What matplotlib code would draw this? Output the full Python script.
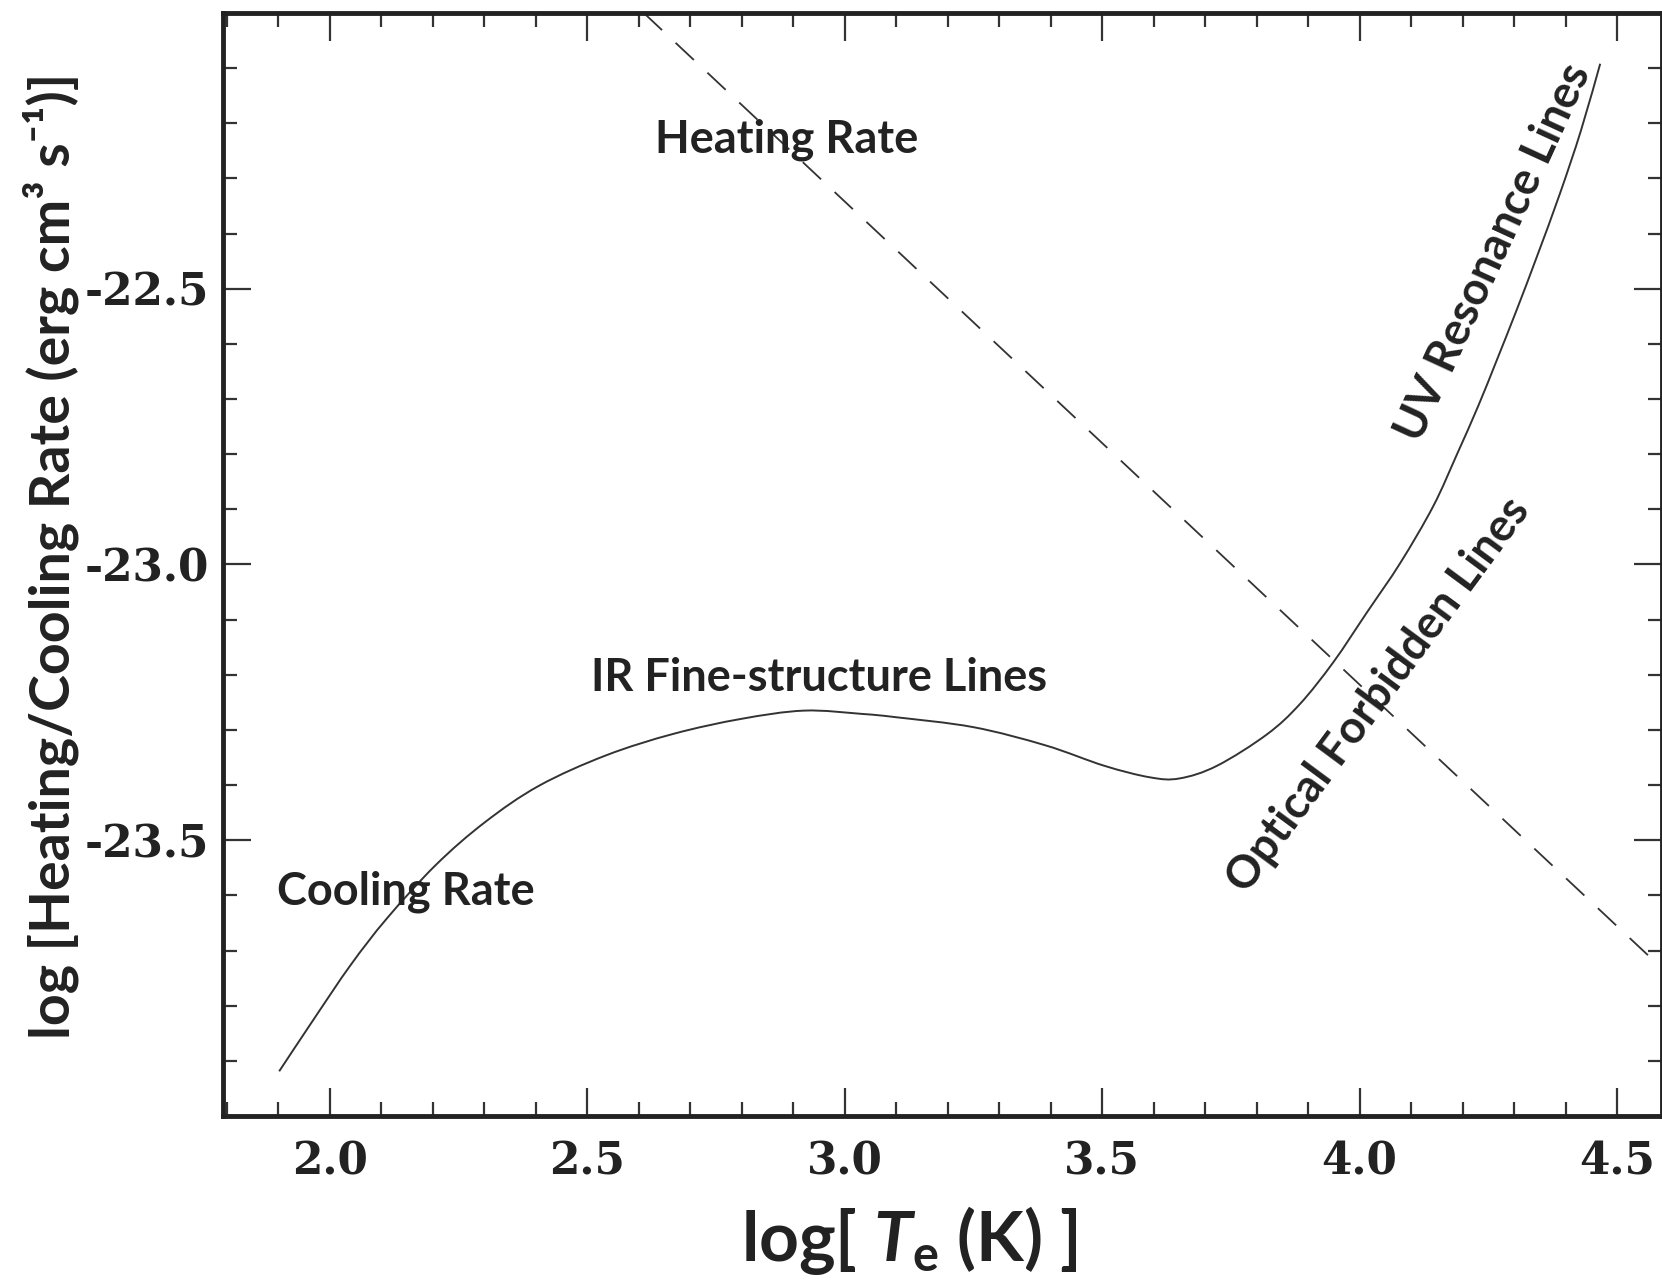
import matplotlib
matplotlib.use("Agg")
import matplotlib.pyplot as plt
from matplotlib.ticker import MultipleLocator, FixedLocator
from matplotlib.path import Path
from matplotlib.patches import PathPatch

plt.rcParams['mathtext.fontset'] = 'custom'
plt.rcParams['mathtext.rm'] = 'Lato:bold'
plt.rcParams['mathtext.it'] = 'Lato:bold:italic'
plt.rcParams['mathtext.bf'] = 'Lato:bold'
plt.rcParams['mathtext.default'] = 'rm'
plt.rcParams['lines.scale_dashes'] = False

# ---- data ----
cool_x = [1.902, 1.971, 2.041, 2.111, 2.206, 2.302, 2.407, 2.537, 2.668, 2.799,
          2.921, 3.034, 3.100, 3.250, 3.390, 3.504, 3.593, 3.650, 3.723, 3.820,
          3.884, 3.949, 4.014, 4.079, 4.143, 4.189, 4.230, 4.266, 4.305, 4.344,
          4.389, 4.430, 4.467]
cool_y = [-23.919, -23.822, -23.726, -23.642, -23.545, -23.467, -23.401, -23.346,
          -23.307, -23.280, -23.265, -23.271, -23.277, -23.295, -23.328, -23.365,
          -23.386, -23.388, -23.365, -23.308, -23.253, -23.177, -23.087, -22.997,
          -22.894, -22.800, -22.713, -22.630, -22.538, -22.442, -22.327, -22.212,
          -22.092]

heat_x = [2.61, 4.59]
heat_y = [-22.00, -23.735]

x_major = [2.0, 2.5, 3.0, 3.5, 4.0, 4.5]
x_labels = ["2.0", "2.5", "3.0", "3.5", "4.0", "4.5"]
y_major = [-23.5, -23.0, -22.5]
y_labels = ["-23.5", "-23.0", "-22.5"]

annotations = [
    ("Heating Rate", 2.887, -22.230, 0),
    ("IR Fine-structure Lines", 2.951, -23.205, 0),
    ("Cooling Rate", 2.147, -23.594, 0),
    ("UV Resonance Lines", 4.261, -22.435, 65.3),
    ("Optical Forbidden Lines", 4.036, -23.237, 53.5),
]


def smooth_path(xs, ys):
    """Catmull-Rom spline through the read points, drawn as cubic Bezier curves."""
    pts = list(zip(xs, ys))
    n = len(pts)
    verts = [pts[0]]
    codes = [Path.MOVETO]
    for i in range(n - 1):
        p0 = pts[i - 1] if i > 0 else pts[i]
        p1 = pts[i]
        p2 = pts[i + 1]
        p3 = pts[i + 2] if i + 2 < n else pts[i + 1]
        c1 = (p1[0] + (p2[0] - p0[0]) / 6.0, p1[1] + (p2[1] - p0[1]) / 6.0)
        c2 = (p2[0] - (p3[0] - p1[0]) / 6.0, p2[1] - (p3[1] - p1[1]) / 6.0)
        verts += [c1, c2, p2]
        codes += [Path.CURVE4] * 3
    return Path(verts, codes)


# ---- figure ----
fig = plt.figure(figsize=(16.62, 12.87), dpi=100)
ax = fig.add_axes([0.1342, 0.1329, 0.8658, 0.857])

ax.add_patch(PathPatch(smooth_path(cool_x, cool_y), fill=False,
                       edgecolor='#333333', lw=1.4))
ax.plot(heat_x, heat_y, color='#333333', lw=1.3, dashes=(18, 13.4))

ax.set_xlim(1.793, 4.587)
ax.set_ylim(-24.0, -22.0)

ax.xaxis.set_major_locator(FixedLocator(x_major))
ax.set_xticklabels(x_labels)
ax.xaxis.set_minor_locator(MultipleLocator(0.1))
ax.yaxis.set_major_locator(FixedLocator(y_major))
ax.set_yticklabels(y_labels)
ax.yaxis.set_minor_locator(MultipleLocator(0.1))

ax.tick_params(which='both', direction='in', top=True, right=True, color='#333333')
ax.tick_params(which='major', length=20, width=1.6)
ax.tick_params(which='minor', length=10, width=1.6)
ax.tick_params(axis='x', which='major', pad=18)
ax.tick_params(axis='y', which='major', pad=10)

for lab in ax.get_xticklabels() + ax.get_yticklabels():
    lab.set_fontfamily('DejaVu Serif')
    lab.set_fontweight('bold')
    lab.set_fontsize(31.5)
    lab.set_color('#222222')

for sp in ax.spines.values():
    sp.set_linewidth(3.5)
    sp.set_color('#222222')

for txt, x, y, rot in annotations:
    ax.text(x, y, txt, fontfamily='Lato', fontweight='bold', fontsize=32.5,
            color='#222222', ha='center', va='center', rotation=rot,
            rotation_mode='anchor')

ax.set_xlabel(r"log[ $\mathit{T}_{\mathbf{e}}$ (K) ]", fontfamily='Lato',
              fontweight='bold', fontsize=50, color='#222222', va='center')
ax.xaxis.set_label_coords(0.477, -0.113)
ax.set_ylabel("log [Heating/Cooling Rate (erg cm³ s⁻¹)]",
              fontfamily=['Lato', 'DejaVu Sans'], fontweight='bold', fontsize=40,
              color='#222222', va='baseline', ha='center')
ax.yaxis.set_label_coords(-0.107, 0.508)

fig.savefig("out.png", dpi=100)
